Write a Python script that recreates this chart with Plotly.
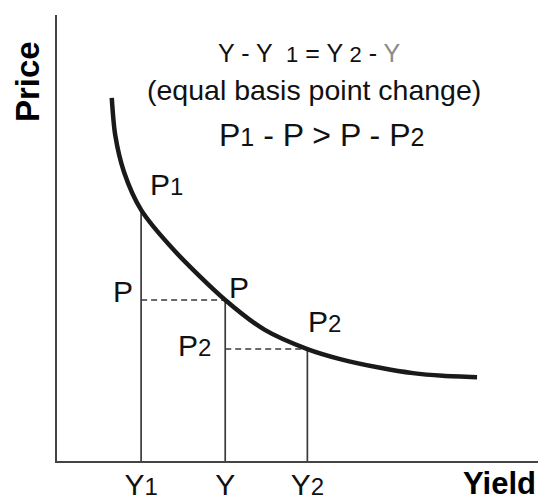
import plotly.graph_objects as go

# Price-yield curve (arbitrary units)
yield_curve = [1.12, 1.19, 1.37, 1.72, 2.39, 3.44, 4.25, 5.12, 5.81, 6.61, 7.28, 7.89, 8.59]
price_curve = [8.14, 7.31, 6.48, 5.63, 4.73, 3.61, 2.94, 2.51, 2.28, 2.09, 1.97, 1.91, 1.88]

# Key yields / prices
yields = [1.72, 3.44, 5.12]          # Y1, Y, Y2
prices = [5.63, 3.61, 2.51]          # P1, P, P2
yield_labels = ["Y<span style='font-size:24px'>1</span>", "Y",
                "Y<span style='font-size:24px'>2</span>"]

FONT = "Arial, Liberation Sans, sans-serif"
fig = go.Figure()

# vertical drop lines from curve to yield axis
for yv, pv in zip(yields, prices):
    fig.add_trace(go.Scatter(x=[yv, yv], y=[0, pv], mode="lines",
                             line=dict(color="#3a3a3a", width=1.7),
                             hoverinfo="skip", showlegend=False))

# dashed horizontals: P from Y1 to Y, P2 from Y to Y2
fig.add_trace(go.Scatter(x=[yields[0], yields[1]], y=[prices[1], prices[1]], mode="lines",
                         line=dict(color="#3a3a3a", width=1.6, dash="6px,4px"),
                         hoverinfo="skip", showlegend=False))
fig.add_trace(go.Scatter(x=[yields[1], yields[2]], y=[prices[2], prices[2]], mode="lines",
                         line=dict(color="#3a3a3a", width=1.6, dash="6px,4px"),
                         hoverinfo="skip", showlegend=False))

# the curve
fig.add_trace(go.Scatter(x=yield_curve, y=price_curve, mode="lines",
                         line=dict(color="#1a1a1a", width=4.5, shape="spline", smoothing=0.8),
                         hoverinfo="skip", showlegend=False))

sub = lambda d, s: f"<span style='font-size:{s}px'>{d}</span>"

ann = [
    # point labels
    dict(x=yields[0] + 0.51, y=prices[0] + 0.56, text="P" + sub("1", 24)),
    dict(x=yields[0] - 0.37, y=prices[1] + 0.18, text="P"),
    dict(x=yields[1] + 0.28, y=prices[1] + 0.27, text="P"),
    dict(x=yields[1] - 0.62, y=prices[2] + 0.09, text="P" + sub("2", 24)),
    dict(x=yields[2] + 0.36, y=prices[2] + 0.61, text="P" + sub("2", 24)),
]
annotations = []
for a in ann:
    annotations.append(dict(x=a["x"], y=a["y"], text=a["text"], xref="x", yref="y",
                            xanchor="center", yanchor="middle",
                            showarrow=False, font=dict(family=FONT, size=30, color="#111")))

# top explanatory text
annotations += [
    dict(x=5.17, y=9.15, xref="x", yref="y", showarrow=False, xanchor="center", yanchor="middle",
         text="Y - Y  " + sub("1", 22) + " = Y " + sub("2", 22) + " - <span style='color:#8a8a8a'>Y</span>",
         font=dict(family=FONT, size=25, color="#111")),
    dict(x=5.26, y=8.32, xref="x", yref="y", showarrow=False, xanchor="center", yanchor="middle",
         text="(equal basis point change)",
         font=dict(family=FONT, size=28.5, color="#111")),
    dict(x=5.40, y=7.31, xref="x", yref="y", showarrow=False, xanchor="center", yanchor="middle",
         text="P" + sub("1", 25) + " - P > P - P" + sub("2", 25),
         font=dict(family=FONT, size=32, color="#111")),
    # axis titles (paper coordinates so they are not hidden outside the axis range)
    dict(x=0.905, y=-0.050, xref="paper", yref="paper", showarrow=False,
         xanchor="center", yanchor="middle",
         text="<b>Yield</b>", font=dict(family=FONT, size=31, color="#000")),
    dict(x=-0.059, y=0.85, xref="paper", yref="paper", showarrow=False, textangle=-90,
         xanchor="center", yanchor="middle",
         text="<b>Price</b>", font=dict(family=FONT, size=33, color="#000")),
]

# The page body adds an 8px offset, so the figure is sized to end at the window edges.
fig.update_layout(
    width=538, height=494,
    margin=dict(l=49, r=0, t=7, b=41),
    paper_bgcolor="white", plot_bgcolor="white",
    annotations=annotations,
    xaxis=dict(range=[0, 10], showgrid=False, zeroline=False, showline=True,
               linecolor="#444", linewidth=2, ticks="",
               tickvals=yields, ticktext=yield_labels, ticklabelstandoff=-4,
               tickfont=dict(family=FONT, size=30, color="#111"),
               automargin=False, fixedrange=True),
    yaxis=dict(range=[0, 10], showgrid=False, zeroline=False, showline=True,
               linecolor="#444", linewidth=2, ticks="", showticklabels=False,
               automargin=False, fixedrange=True),
)

fig.write_html("out.html")
